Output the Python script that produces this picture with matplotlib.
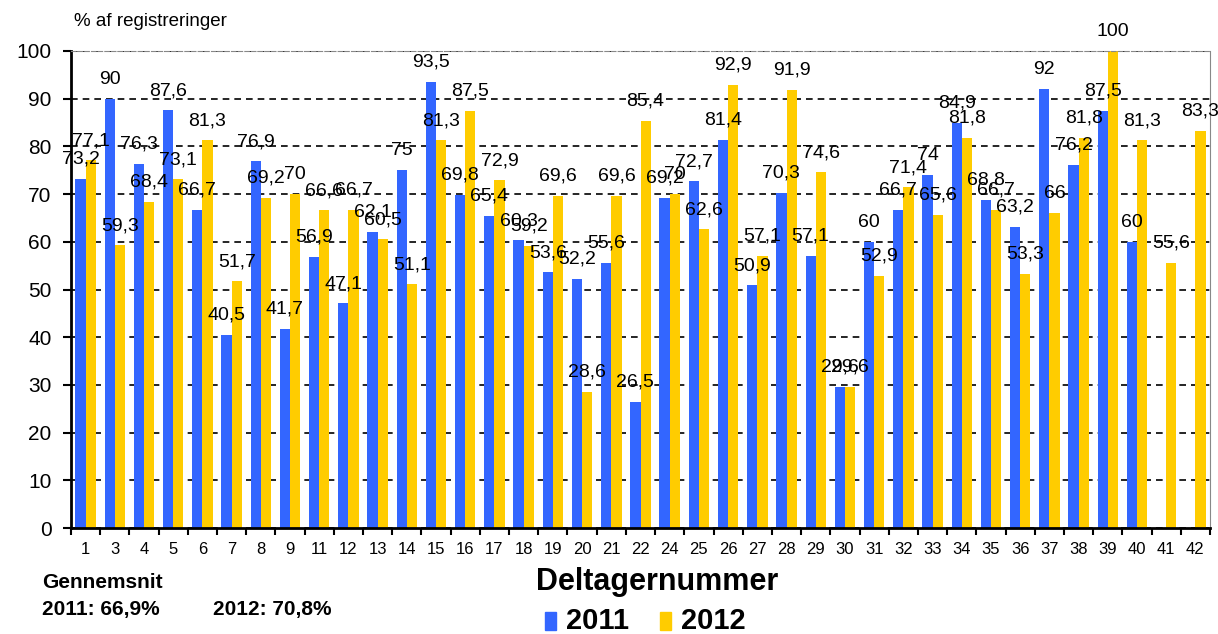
import matplotlib

matplotlib.use("Agg")
import matplotlib.pyplot as plt
import numpy as np
from matplotlib.patches import Rectangle

plt.rcParams["font.family"] = ["Liberation Sans", "DejaVu Sans"]

participants = ["1", "3", "4", "5", "6", "7", "8", "9", "11", "12", "13", "14", "15",
                "16", "17", "18", "19", "20", "21", "22", "24", "25", "26", "27", "28",
                "29", "30", "31", "32", "33", "34", "35", "36", "37", "38", "39", "40",
                "41", "42"]
pct_2011 = [73.2, 90, 76.3, 87.6, 66.7, 40.5, 76.9, 41.7, 56.9, 47.1, 62.1, 75, 93.5,
            69.8, 65.4, 60.3, 53.6, 52.2, 55.6, 26.5, 69.2, 72.7, 81.4, 50.9, 70.3,
            57.1, 29.6, 60, 66.7, 74, 84.9, 68.8, 63.2, 92, 76.2, 87.5, 60,
            None, None]
pct_2012 = [77.1, 59.3, 68.4, 73.1, 81.3, 51.7, 69.2, 70, 66.6, 66.7, 60.5, 51.1, 81.3,
            87.5, 72.9, 59.2, 69.6, 28.6, 69.6, 85.4, 70, 62.6, 92.9, 57.1, 91.9,
            74.6, 29.6, 52.9, 71.4, 65.6, 81.8, 66.7, 53.3, 66, 81.8, 100, 81.3,
            55.6, 83.3]
avg_2011 = "66,9%"
avg_2012 = "70,8%"

BLUE = "#3366FF"
YELLOW = "#FFCC00"
W = 0.35


def fmt(v):
    s = f"{v:.1f}".replace(".", ",")
    return s[:-2] if s.endswith(",0") else s


fig = plt.figure(figsize=(12.18, 6.34), dpi=100)
ax = fig.add_axes([71 / 1218, 1 - 528 / 634, (1210 - 71) / 1218, (528 - 51) / 634])

x = np.arange(len(participants))
for vals, off, col in ((pct_2011, -W / 2, BLUE), (pct_2012, W / 2, YELLOW)):
    xs = [xi + off for xi, v in zip(x, vals) if v is not None]
    vs = [v for v in vals if v is not None]
    ax.bar(xs, vs, width=W, color=col, zorder=2)
    for xi, v in zip(xs, vs):
        ax.annotate(fmt(v), (xi, v), xytext=(0, 8), textcoords="offset points",
                    ha="center", va="bottom", fontsize=14, zorder=3)

ax.set_xlim(-0.5, len(participants) - 0.5)
ax.set_ylim(0, 100)
ax.set_yticks(range(0, 101, 10))
ax.yaxis.grid(True, color="black", linestyle=(0, (4, 3)), linewidth=1.2, zorder=0)
ax.tick_params(axis="y", labelsize=15, length=6, width=1.5, direction="out", pad=8)

ax.set_xticks(x)
ax.set_xticklabels(participants, fontsize=12)
ax.set_xticks(np.arange(-0.5, len(participants), 1), minor=True)
ax.tick_params(axis="x", which="major", length=0, pad=10)
ax.tick_params(axis="x", which="minor", length=5, width=1.5, direction="out")

ax.spines["left"].set_linewidth(2)
ax.spines["bottom"].set_linewidth(2)
ax.spines["right"].set_color("#888888")
ax.spines["top"].set_color("#888888")
ax.spines["top"].set_linestyle((0, (4, 2)))

fig.text(150 / 1218, 1 - 21 / 634, "% af registreringer", fontsize=13.5,
         ha="center", va="center")

fig.text(42 / 1218, 1 - 583 / 634, "Gennemsnit", fontsize=15, fontweight="bold",
         va="center")
fig.text(42 / 1218, 1 - 609 / 634, f"2011: {avg_2011}", fontsize=15,
         fontweight="bold", va="center")
fig.text(213 / 1218, 1 - 609 / 634, f"2012: {avg_2012}", fontsize=15,
         fontweight="bold", va="center")

fig.text(657 / 1218, 1 - 582 / 634, "Deltagernummer", fontsize=22,
         fontweight="bold", ha="center", va="center")

# legend
for lx, col, lab in ((545, BLUE, "2011"), (660, YELLOW, "2012")):
    fig.patches.append(Rectangle((lx / 1218, 1 - 630 / 634), 11 / 1218, 18 / 634,
                                 color=col, transform=fig.transFigure))
    fig.text((lx + 21) / 1218, 1 - 621 / 634, lab, fontsize=21, fontweight="bold",
             va="center")

fig.savefig("out.png", dpi=100)
